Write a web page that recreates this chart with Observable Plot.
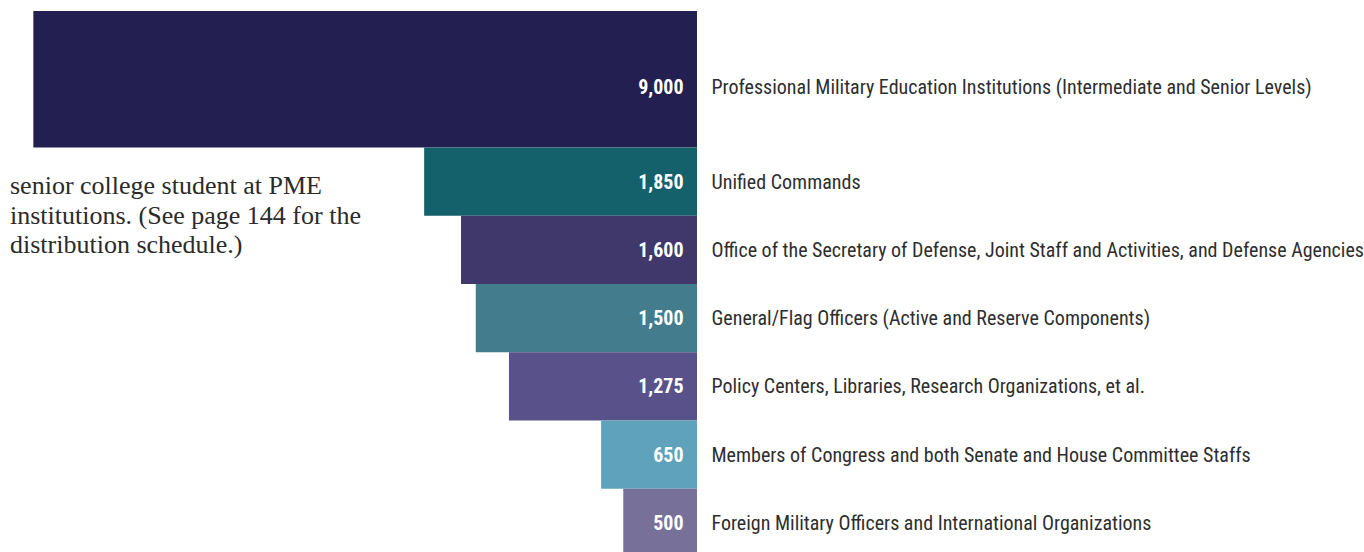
<!DOCTYPE html>
<html>
<head>
<meta charset="utf-8">
<script src="https://cdn.jsdelivr.net/npm/d3@7"></script>
<script src="https://cdn.jsdelivr.net/npm/@observablehq/plot@0.6"></script>
<style>
  html, body { margin: 0; padding: 0; background: #fff; overflow: hidden; }
  #wrap { position: relative; width: 1364px; height: 552px; }
  #note {
    position: absolute; left: 10px; top: 171px;
    font-family: "Liberation Serif", "DejaVu Serif", serif;
    font-size: 26px; line-height: 29.5px; color: #2b2b2b;
    white-space: nowrap;
  }
  #chart { position: absolute; left: 0; top: 0; }
</style>
</head>
<body>
<div id="wrap">
  <div id="chart"></div>
  <div id="note">senior college student at PME<br>institutions. (See page 144 for the<br>distribution schedule.)</div>
</div>
<script>
const categories = [
  "Professional Military Education Institutions (Intermediate and Senior Levels)",
  "Unified Commands",
  "Office of the Secretary of Defense, Joint Staff and Activities, and Defense Agencies",
  "General/Flag Officers (Active and Reserve Components)",
  "Policy Centers, Libraries, Research Organizations, et al.",
  "Members of Congress and both Senate and House Committee Staffs",
  "Foreign Military Officers and International Organizations"
];
const values = [9000, 1850, 1600, 1500, 1275, 650, 500];
const rowSpans = [2, 1, 1, 1, 1, 1, 1];
const colors = ["#231f50", "#14606b", "#40386a", "#437c8c", "#59528a", "#5fa2bb", "#777098"];

let acc = 0;
const rows = categories.map((c, i) => {
  const r = {category: c, value: values[i], span: rowSpans[i], color: colors[i],
             y1: acc, y2: acc + rowSpans[i], w: values[i] / rowSpans[i]};
  acc += rowSpans[i];
  return r;
});

const fmt = d3.format(",");
const font = '"Roboto Condensed", "Roboto", "Liberation Sans", sans-serif';
const tall = rows.filter(d => d.span > 1);
const single = rows.filter(d => d.span === 1);
const mid = d => (d.y1 + d.y2) / 2;

const chart = Plot.plot({
  width: 1364,
  height: 557,
  margin: 0,
  style: {fontFamily: font, fontStretch: "condensed", background: "transparent", overflow: "visible"},
  x: {domain: [0, 4726], range: [697, 0], axis: null},
  y: {domain: [0, 8], range: [11, 557], axis: null},
  marks: [
    Plot.rect(rows, {x1: d => 0, x2: "w", y1: "y1", y2: "y2", fill: "color"}),
    // value labels
    Plot.text(single, {x: d => 0, y: mid, text: d => fmt(d.value),
      textAnchor: "end", dx: -14, fill: "white", fontWeight: "bold", fontSize: 20}),
    Plot.text(tall, {x: d => 0, y: mid, text: d => fmt(d.value),
      textAnchor: "end", dx: -14, dy: 8, fill: "white", fontWeight: "bold", fontSize: 20}),
    // category labels
    Plot.text(single, {x: d => 0, y: mid, text: "category",
      textAnchor: "start", dx: 14, fill: "#2e2e2e", fontSize: 20}),
    Plot.text(tall, {x: d => 0, y: mid, text: "category",
      textAnchor: "start", dx: 14, dy: 8, fill: "#2e2e2e", fontSize: 20})
  ]
});
document.getElementById("chart").appendChild(chart);
</script>
</body>
</html>
